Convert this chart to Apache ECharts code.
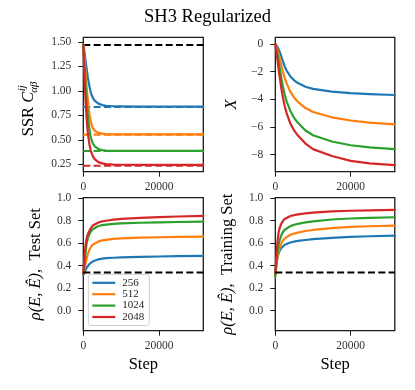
<!DOCTYPE html>
<html><head><meta charset="utf-8">
<script src="https://cdn.jsdelivr.net/npm/echarts@6/dist/echarts.min.js"></script>
<style>html,body{margin:0;padding:0;background:#fff}#c{width:415px;height:390px}</style>
</head><body><div id="c"></div>
<script>
const steps = [0, 300, 600, 900, 1200, 1600, 2000, 2500, 3000, 4000, 5000, 6000, 8000, 10000, 15000, 20000, 25000, 31700];
const sizes = ['256', '512', '1024', '2048'];
const xTicks = [0, 20000];

// SSR C_ab^ij (top-left)
const ssr256  = [1.47, 1.40, 1.31, 1.22, 1.14, 1.05, 0.98, 0.93, 0.90, 0.87, 0.855, 0.848, 0.843, 0.841, 0.84, 0.84, 0.84, 0.84];
const ssr512  = [1.47, 1.33, 1.18, 1.03, 0.91, 0.77, 0.68, 0.62, 0.593, 0.571, 0.563, 0.559, 0.556, 0.555, 0.555, 0.555, 0.555, 0.555];
const ssr1024 = [1.47, 1.25, 1.05, 0.88, 0.745, 0.61, 0.52, 0.465, 0.434, 0.406, 0.395, 0.39, 0.387, 0.386, 0.386, 0.386, 0.386, 0.386];
const ssr2048 = [1.47, 1.15, 0.90, 0.71, 0.57, 0.455, 0.385, 0.333, 0.302, 0.272, 0.259, 0.251, 0.246, 0.245, 0.244, 0.244, 0.244, 0.244];
const ssrInitial = 1.47;
const ssrReference = [0.835, 0.553, 0.385, 0.235];
const ssrTicks = [0.25, 0.50, 0.75, 1.00, 1.25, 1.50];

// X (top-right)
const x256  = [0, -0.08, -0.22, -0.4, -0.6, -0.9, -1.25, -1.62, -1.92, -2.35, -2.63, -2.83, -3.09, -3.25, -3.45, -3.56, -3.63, -3.69];
const x512  = [0, -0.2, -0.45, -0.75, -1.1, -1.55, -2.0, -2.45, -2.85, -3.45, -3.88, -4.18, -4.63, -4.92, -5.3, -5.53, -5.68, -5.81];
const x1024 = [0, -0.35, -0.8, -1.3, -1.8, -2.45, -3.05, -3.65, -4.15, -4.85, -5.35, -5.7, -6.25, -6.6, -7.05, -7.32, -7.47, -7.6];
const x2048 = [0, -0.6, -1.2, -1.85, -2.45, -3.2, -3.85, -4.5, -5.0, -5.75, -6.25, -6.62, -7.2, -7.6, -8.1, -8.45, -8.63, -8.76];
const xTicksY = [-8, -6, -4, -2, 0];

// rho, test set (bottom-left)
const test256  = [0.32, 0.34, 0.362, 0.382, 0.398, 0.415, 0.427, 0.438, 0.446, 0.457, 0.463, 0.467, 0.471, 0.474, 0.479, 0.482, 0.485, 0.487];
const test512  = [0.33, 0.375, 0.42, 0.465, 0.505, 0.54, 0.565, 0.587, 0.60, 0.616, 0.625, 0.63, 0.638, 0.643, 0.649, 0.653, 0.656, 0.658];
const test1024 = [0.33, 0.40, 0.52, 0.60, 0.645, 0.68, 0.705, 0.725, 0.737, 0.753, 0.761, 0.766, 0.772, 0.776, 0.782, 0.786, 0.789, 0.792];
const test2048 = [0.33, 0.47, 0.585, 0.645, 0.68, 0.71, 0.735, 0.757, 0.769, 0.785, 0.795, 0.80, 0.81, 0.816, 0.826, 0.832, 0.838, 0.843];

// rho, training set (bottom-right)
const train256  = [0.33, 0.42, 0.478, 0.512, 0.535, 0.558, 0.574, 0.587, 0.596, 0.607, 0.615, 0.621, 0.629, 0.636, 0.648, 0.656, 0.662, 0.667];
const train512  = [0.32, 0.41, 0.478, 0.528, 0.563, 0.598, 0.622, 0.643, 0.657, 0.675, 0.686, 0.695, 0.709, 0.718, 0.735, 0.745, 0.751, 0.756];
const train1024 = [0.30, 0.43, 0.525, 0.588, 0.632, 0.672, 0.698, 0.72, 0.735, 0.752, 0.764, 0.772, 0.786, 0.795, 0.811, 0.82, 0.826, 0.831];
const train2048 = [0.33, 0.48, 0.62, 0.70, 0.74, 0.775, 0.797, 0.815, 0.827, 0.842, 0.85, 0.856, 0.866, 0.872, 0.884, 0.889, 0.893, 0.896];
const rhoReference = 0.34;
const rhoTicks = [0.0, 0.2, 0.4, 0.6, 0.8, 1.0];

const colors = ['#1f77b4', '#ff7f0e', '#2ca02c', '#d62728'];
const SERIF = "'Liberation Serif', serif";
const stepMax = steps[steps.length - 1];
const NAME_SIZE = 16.5;

const grids = [
  {left: 83.3, top: 37.3, width: 120, height: 134.4},
  {left: 275.3, top: 37.3, width: 119.5, height: 134.4},
  {left: 83.3, top: 197.7, width: 120, height: 133},
  {left: 275.3, top: 197.7, width: 119.5, height: 133}
].map(g => Object.assign(g, {show: true, borderColor: '#1a1a1a', borderWidth: 1.3, backgroundColor: 'transparent', containLabel: false}));

const lblStyle = {color: '#333', fontFamily: SERIF, fontSize: 11.5};
const tickStyle = {show: true, length: 5, lineStyle: {color: '#1a1a1a', width: 1}};

function xAx(i, withName) {
  return {
    type: 'value', gridIndex: i, min: 0, max: stepMax,
    axisLine: {show: false, onZero: false}, splitLine: {show: false},
    axisTick: Object.assign({customValues: xTicks}, tickStyle),
    axisLabel: Object.assign({customValues: xTicks, margin: 9, formatter: v => String(v)}, lblStyle),
    name: withName ? 'Step' : '', nameLocation: 'middle', nameGap: 25,
    nameTextStyle: {fontFamily: SERIF, fontSize: NAME_SIZE, color: '#000'}
  };
}
function yAx(i, min, max, ticks, fmt, name, gap) {
  return {
    type: 'value', gridIndex: i, min: min, max: max,
    axisLine: {show: false, onZero: false}, splitLine: {show: false},
    axisTick: Object.assign({customValues: ticks}, tickStyle),
    axisLabel: Object.assign({customValues: ticks, margin: 12, formatter: fmt}, lblStyle),
    name: name, nameLocation: 'middle', nameGap: gap, nameRotate: 90,
    nameTextStyle: {fontFamily: SERIF, fontSize: NAME_SIZE, color: '#000',
      rich: {m: {fontFamily: SERIF, fontSize: NAME_SIZE, fontStyle: 'italic', color: '#000'},
             t: {fontFamily: SERIF, fontSize: NAME_SIZE, color: '#000'}}}
  };
}

const pair = arr => steps.map((s, k) => [s, arr[k]]);
const series = [];
function solid(name, gi, arr, color) {
  series.push({name: name, type: 'line', xAxisIndex: gi, yAxisIndex: gi, data: pair(arr),
    showSymbol: false, smooth: false, lineStyle: {color: color, width: 2.2, join: 'round', cap: 'round'}, itemStyle: {color: color}, z: 3});
}
function dashed(name, gi, v, color, z) {
  series.push({name: name, type: 'line', xAxisIndex: gi, yAxisIndex: gi, data: [[0, v], [stepMax, v]],
    showSymbol: false, lineStyle: {color: color, width: 2.1, type: [7, 3.3]}, itemStyle: {color: color}, z: z, silent: true});
}

// top-left
dashed('ref', 0, ssrInitial, '#000', 2);
ssrReference.forEach((v, k) => dashed('ref' + k, 0, v, colors[k], 2));
[ssr256, ssr512, ssr1024, ssr2048].forEach((a, k) => solid(sizes[k], 0, a, colors[k]));
// top-right
[x256, x512, x1024, x2048].forEach((a, k) => solid(sizes[k], 1, a, colors[k]));
// bottom-left
[test256, test512, test1024, test2048].forEach((a, k) => solid(sizes[k], 2, a, colors[k]));
dashed('refT', 2, rhoReference, '#000', 4);
// bottom-right
[train256, train512, train1024, train2048].forEach((a, k) => solid(sizes[k], 3, a, colors[k]));
dashed('refR', 3, rhoReference, '#000', 4);

const minus = v => (v < 0 ? '\u2212' + Math.abs(v) : String(v));

// SSR label built with stacked super/subscript
const mc = document.createElement('canvas').getContext('2d');
mc.font = NAME_SIZE + 'px Liberation Serif';
const wMain = mc.measureText('SSR ').width;
mc.font = 'italic ' + NAME_SIZE + 'px Liberation Serif';
const wC = mc.measureText('C').width;
const total = wMain + wC + 10;
const x0 = -total / 2;

const option = {
  animation: false,
  title: {text: 'SH3 Regularized', left: 'center', top: 3,
    textStyle: {fontFamily: SERIF, fontSize: 18.5, fontWeight: 'normal', color: '#000'}},
  grid: grids,
  legend: {
    data: sizes, orient: 'vertical', left: 88.3, top: 274.3,
    icon: 'rect', itemWidth: 23, itemHeight: 2.2, itemGap: 0.4,
    padding: [3, 5, 3, 4], borderColor: '#cccccc', borderWidth: 1, borderRadius: 3,
    backgroundColor: 'rgba(255,255,255,0.8)',
    textStyle: {fontFamily: SERIF, fontSize: 11, color: '#222', lineHeight: 10.8, padding: [0, 0, 0, 2]}
  },
  xAxis: [xAx(0, false), xAx(1, false), xAx(2, true), xAx(3, true)],
  yAxis: [
    yAx(0, 0.174, 1.548, ssrTicks, v => v.toFixed(2), '', 40),
    yAx(1, -9.23, 0.48, xTicksY, minus, '{m|X}', 35),
    yAx(2, -0.178, 1.005, rhoTicks, v => v.toFixed(1), '{m|\u03c1(E, \u00ca)}{t|,  Test Set}', 39),
    yAx(3, -0.178, 1.005, rhoTicks, v => v.toFixed(1), '{m|\u03c1(E, \u00ca)}{t|,  Training Set}', 39)
  ],
  series: series,
  graphic: [{
    type: 'group', x: 28.5, y: 109, rotation: Math.PI / 2,
    children: [
      {type: 'text', x: x0, y: 0, style: {text: 'SSR ', fontFamily: 'Liberation Serif', fontSize: NAME_SIZE, fill: '#000', align: 'left', verticalAlign: 'middle'}},
      {type: 'text', x: x0 + wMain, y: 0, style: {text: 'C', fontFamily: 'Liberation Serif', fontStyle: 'italic', fontSize: NAME_SIZE, fill: '#000', align: 'left', verticalAlign: 'middle'}},
      {type: 'text', x: x0 + wMain + wC + 0.5, y: -6, style: {text: 'ij', fontFamily: 'Liberation Serif', fontStyle: 'italic', fontSize: 11, fill: '#000', align: 'left', verticalAlign: 'middle'}},
      {type: 'text', x: x0 + wMain + wC - 1, y: 5.5, style: {text: '\u03b1\u03b2', fontFamily: 'Liberation Serif', fontStyle: 'italic', fontSize: 11, fill: '#000', align: 'left', verticalAlign: 'middle'}}
    ]
  }]
};
const chart = echarts.init(document.getElementById('c'), null, {renderer: 'canvas'});
chart.setOption(option);
</script></body></html>
